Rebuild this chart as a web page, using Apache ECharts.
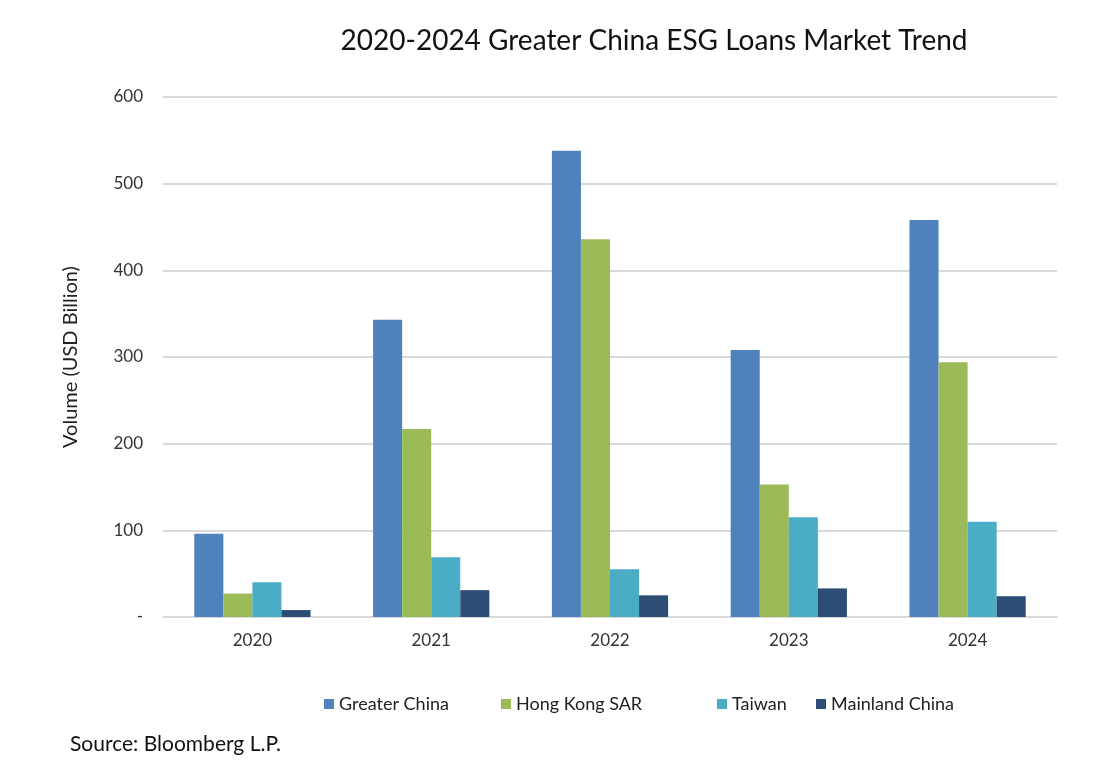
<!DOCTYPE html>
<html>
<head>
<meta charset="utf-8">
<script src="https://cdn.jsdelivr.net/npm/echarts@6/dist/echarts.min.js"></script>
<style>
  html, body { margin: 0; padding: 0; background: #fff; }
  #chart { width: 1100px; height: 775px; }
</style>
</head>
<body>
<div id="chart"></div>
<script>
const YEARS = ["2020", "2021", "2022", "2023", "2024"];
const SERIES_NAMES = ["Greater China", "Hong Kong SAR", "Taiwan", "Mainland China"];
const GREATER_CHINA = [96, 343, 538, 308, 458];
const HONG_KONG = [27, 217, 436, 153, 294];
const TAIWAN = [40, 69, 55, 115, 110];
const MAINLAND = [8, 31, 25, 33, 24];

const COLORS = ["#4F81BD", "#9BBB59", "#4BACC6", "#2C4D75"];
const FONT = "Lato, 'Noto Sans', sans-serif";
// legend entries sit at uneven spots in the original, so one legend per entry
const LEGEND_LEFT = [319, 496, 712, 811];

const chart = echarts.init(document.getElementById("chart"));

const seriesData = [GREATER_CHINA, HONG_KONG, TAIWAN, MAINLAND];

const option = {
  backgroundColor: "#ffffff",
  animation: false,
  textStyle: { fontFamily: FONT },
  color: COLORS,
  title: {
    text: "2020-2024 Greater China ESG Loans Market Trend",
    left: 649,
    top: 22,
    textAlign: "center",
    textStyle: { fontFamily: FONT, fontSize: 28, fontWeight: "normal", color: "#111" }
  },
  legend: SERIES_NAMES.map((name, i) => ({
    data: [name],
    left: LEGEND_LEFT[i],
    top: 690,
    icon: "rect",
    itemWidth: 10,
    itemHeight: 10,
    itemGap: 4,
    textStyle: { fontFamily: FONT, fontSize: 18, color: "#222" }
  })),
  grid: { left: 163, right: 43, top: 97, bottom: 158 },
  xAxis: {
    type: "category",
    data: YEARS,
    axisLine: { lineStyle: { color: "#d9d9d9", width: 2 } },
    axisTick: { show: false },
    axisLabel: { fontFamily: FONT, fontSize: 17, color: "#333", margin: 15 }
  },
  yAxis: {
    type: "value",
    min: 0,
    max: 600,
    interval: 100,
    name: "Volume (USD Billion)",
    nameLocation: "middle",
    nameGap: 82,
    nameTextStyle: { fontFamily: FONT, fontSize: 20, color: "#222" },
    axisLine: { show: false },
    axisTick: { show: false },
    splitLine: { lineStyle: { color: "#d9d9d9", width: 2 } },
    axisLabel: {
      fontFamily: FONT,
      fontSize: 17,
      color: "#333",
      margin: 20,
      formatter: v => (v === 0 ? "-" : String(v))
    }
  },
  series: SERIES_NAMES.map((name, i) => ({
    name,
    type: "bar",
    data: seriesData[i],
    barGap: "0%",
    barCategoryGap: "35%",
    itemStyle: { color: COLORS[i] }
  })),
  graphic: [{
    type: "text",
    left: 70,
    top: 734,
    style: { text: "Source: Bloomberg L.P.", font: "21px " + FONT, fill: "#111" }
  }]
};

chart.setOption(option);
</script>
</body>
</html>
